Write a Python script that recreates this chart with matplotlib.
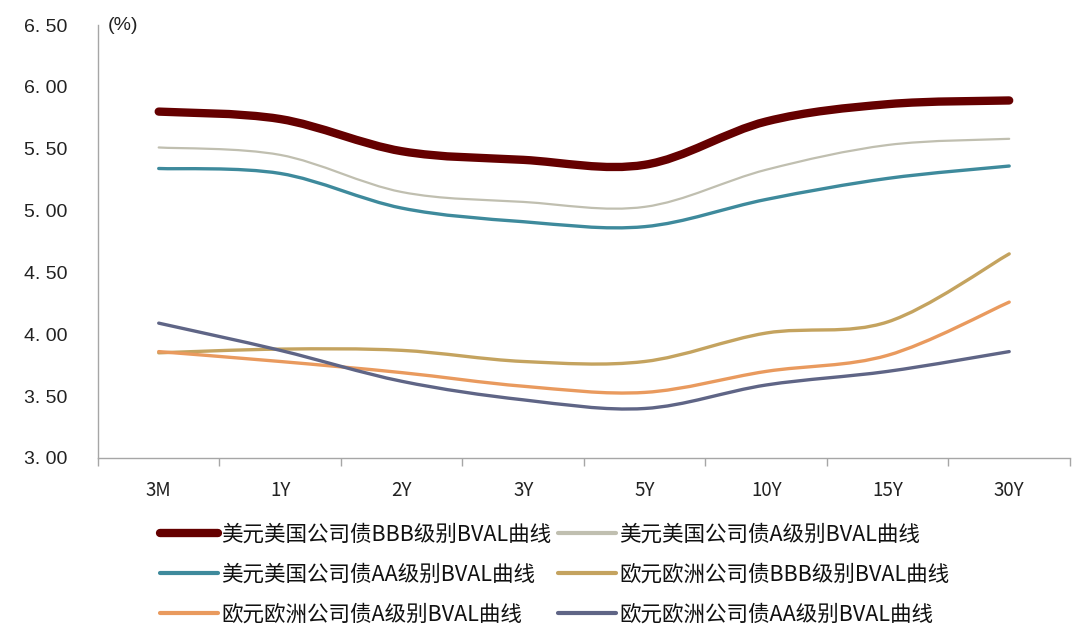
import numpy as np
import matplotlib
matplotlib.use("Agg")
import matplotlib.pyplot as plt
from matplotlib.path import Path
from matplotlib.patches import PathPatch
from matplotlib.lines import Line2D
from matplotlib import font_manager

plt.rcParams["font.family"] = ["Liberation Sans", "Noto Sans CJK SC", "DejaVu Sans"]

# tenors and yields (%)
tenors = ["3M", "1Y", "2Y", "3Y", "5Y", "10Y", "15Y", "30Y"]
usd_bbb = [5.80, 5.74, 5.48, 5.41, 5.37, 5.72, 5.86, 5.89]
usd_a = [5.51, 5.45, 5.15, 5.07, 5.03, 5.33, 5.53, 5.58]
usd_aa = [5.34, 5.30, 5.02, 4.91, 4.87, 5.09, 5.26, 5.36]
eur_bbb = [3.85, 3.88, 3.87, 3.78, 3.78, 4.01, 4.10, 4.65]
eur_a = [3.86, 3.78, 3.69, 3.58, 3.53, 3.70, 3.83, 4.26]
eur_aa = [4.09, 3.87, 3.62, 3.47, 3.40, 3.59, 3.70, 3.86]

names = ["美元美国公司债BBB级别BVAL曲线", "美元美国公司债A级别BVAL曲线",
         "美元美国公司债AA级别BVAL曲线", "欧元欧洲公司债BBB级别BVAL曲线",
         "欧元欧洲公司债A级别BVAL曲线", "欧元欧洲公司债AA级别BVAL曲线"]
series = [usd_bbb, usd_a, usd_aa, eur_bbb, eur_a, eur_aa]
colors = ["#650000", "#C0BFB0", "#3E8A9C", "#C4A35F", "#E99A5E", "#5F6586"]
widths = [6.0, 1.6, 2.4, 2.4, 2.4, 2.4]

yticks = [3.0, 3.5, 4.0, 4.5, 5.0, 5.5, 6.0, 6.5]
ytick_labels = ["3. 00", "3. 50", "4. 00", "4. 50", "5. 00", "5. 50", "6. 00", "6. 50"]

narrow = "Liberation Sans Narrow"
have_narrow = any(f.name == narrow for f in font_manager.fontManager.ttflist)
xfam = [narrow] if have_narrow else ["Noto Sans CJK SC"]


def smooth_path(xs, ys):
    # cubic bezier through the points (Catmull-Rom style), like the
    # "smoothed line" option of the source spreadsheet
    p = np.column_stack([xs, ys]).astype(float)
    n = len(p)
    verts = [tuple(p[0])]
    codes = [Path.MOVETO]
    for i in range(n - 1):
        p0 = p[max(i - 1, 0)]
        p1 = p[i]
        p2 = p[i + 1]
        p3 = p[min(i + 2, n - 1)]
        c1 = p1 + (p2 - p0) / 6.0
        c2 = p2 - (p3 - p1) / 6.0
        verts += [tuple(c1), tuple(c2), tuple(p2)]
        codes += [Path.CURVE4] * 3
    return Path(verts, codes)


fig = plt.figure(figsize=(10.8, 6.33), dpi=100)
ax = fig.add_axes([0.0907, 0.2765, 0.9, 0.684])

x = np.arange(len(tenors))
for ys, c, w in zip(series, colors, widths):
    patch = PathPatch(smooth_path(x, ys), facecolor="none", edgecolor=c,
                      lw=w, capstyle="round", joinstyle="round")
    ax.add_patch(patch)

ax.set_xlim(-0.5, len(tenors) - 0.5)
ax.set_ylim(3.0, 6.5)

ax.set_yticks(yticks)
ax.set_yticklabels(ytick_labels, fontsize=14, color="#222222")
ax.tick_params(axis="y", length=0, pad=22)

ax.set_xticks(x)
ax.set_xticklabels(tenors, fontsize=13.5, family=xfam, color="#222222")
ax.set_xticks(np.arange(-0.5, len(tenors)), minor=True)
ax.tick_params(axis="x", which="major", length=0, pad=16)
ax.tick_params(axis="x", which="minor", length=6, width=1, color="#A6A6A6")

for s in ["top", "right"]:
    ax.spines[s].set_visible(False)
for s in ["left", "bottom"]:
    ax.spines[s].set_color("#A6A6A6")
    ax.spines[s].set_linewidth(1.0)

ax.text(0.01, 1.0, "(%)", transform=ax.transAxes, fontsize=14,
        va="center", ha="left", color="#222222")

handles = [Line2D([], [], color=c, lw=(w if i == 0 else 3.0),
                  solid_capstyle="round")
           for i, (c, w) in enumerate(zip(colors, widths))]
order = [0, 2, 4, 1, 3, 5]
leg = fig.legend([handles[i] for i in order], [names[i] for i in order],
                 loc="upper left", bbox_to_anchor=(0.14, 0.186), ncol=2,
                 frameon=False, handlelength=2.7, handletextpad=0.15,
                 columnspacing=0.3, labelspacing=0.82, borderaxespad=0,
                 prop={"family": ["Noto Sans CJK SC"], "size": 15.5})
for t in leg.get_texts():
    t.set_color("#111111")

fig.savefig("out.png", dpi=100)
